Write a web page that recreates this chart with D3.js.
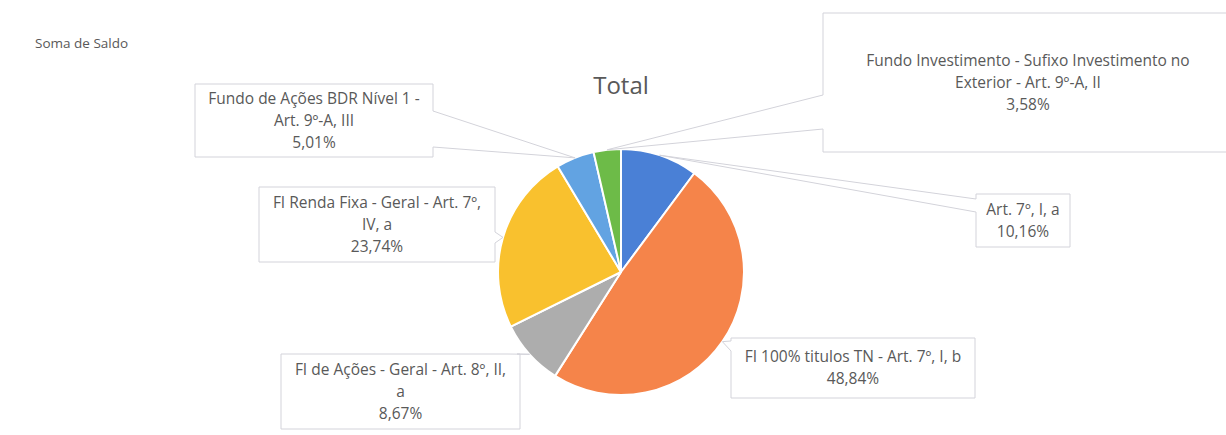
<!DOCTYPE html>
<html>
<head>
<meta charset="utf-8">
<script src="https://cdn.jsdelivr.net/npm/d3@7"></script>
<style>
  html, body { margin: 0; padding: 0; background: #fff; }
  svg { display: block; }
  text { font-family: "Open Sans", "Noto Sans", sans-serif; fill: #595959; }
</style>
</head>
<body>
<svg id="chart" width="1226" height="435"></svg>
<script>
// Categories (clockwise from 12 o'clock) and their share of the total balance, in %
const categories = [
  "Art. 7º, I, a",
  "FI 100% títulos TN - Art. 7º, I, b",
  "FI de Ações - Geral - Art. 8º, II, a",
  "FI Renda Fixa - Geral - Art. 7º, IV, a",
  "Fundo de Ações BDR Nível 1 - Art. 9º-A, III",
  "Fundo Investimento - Sufixo Investimento no Exterior - Art. 9º-A, II"
];
const values = [10.16, 48.84, 8.67, 23.74, 5.01, 3.58];

// Wrapped label lines as drawn inside each callout (category part)
const labelLines = [
  ["Art. 7º, I, a"],
  ["FI 100% titulos TN - Art. 7º, I, b"],
  ["FI de Ações - Geral - Art. 8º, II,", "a"],
  ["FI Renda Fixa - Geral - Art. 7º,", "IV, a"],
  ["Fundo de Ações BDR Nível 1 -", "Art. 9º-A, III"],
  ["Fundo Investimento - Sufixo Investimento no", "Exterior - Art. 9º-A, II"]
];

const colors = ["#4a80d6", "#f5844a", "#adadad", "#f9c12e", "#62a3e2", "#6dbb48"];

const svg = d3.select("#chart");
const cx = 621, cy = 272, R = 123;

// Titles
svg.append("text").attr("x", 35).attr("y", 48)
  .style("font-size", "13.5px").text("Soma de Saldo");
svg.append("text").attr("x", 621).attr("y", 94).attr("text-anchor", "middle")
  .style("font-size", "24px").text("Total");

// Pie
const pie = d3.pie().sort(null).value(d => d);
const arcs = pie(values);
const arc = d3.arc().innerRadius(0).outerRadius(R);

const g = svg.append("g").attr("transform", `translate(${cx},${cy})`);
g.selectAll("path").data(arcs).join("path")
  .attr("d", arc)
  .attr("fill", (d, i) => colors[i])
  .attr("stroke", "#fff")
  .attr("stroke-width", 2)
  .attr("stroke-linejoin", "round");

// Callout boxes: rectangle, the side that carries the pointer and where its base sits
const callouts = [
  { x: 976, y: 194, w: 94,  h: 53,  side: "left",  a: 199, b: 212 },
  { x: 731, y: 338, w: 244, h: 60,  side: "left",  a: 341, b: 351 },
  { x: 281, y: 354, w: 239, h: 75,  side: "top",   a: 507, b: 517 },
  { x: 259, y: 187, w: 236, h: 75,  side: "right", a: 232, b: 243 },
  { x: 195, y: 84,  w: 238, h: 73,  side: "right", a: 111, b: 147 },
  { x: 823, y: 13,  w: 410, h: 139, side: "left",  a: 95,  b: 129 }
];

// Pointer tip: slice mid-angle on the pie rim
function tipOf(d) {
  const m = (d.startAngle + d.endAngle) / 2;
  return [cx + R * Math.sin(m), cy - R * Math.cos(m)];
}

function calloutPath(c, tip) {
  const p = d3.path();
  const x0 = c.x, y0 = c.y, x1 = c.x + c.w, y1 = c.y + c.h;
  p.moveTo(x0, y0);
  if (c.side === "top") { p.lineTo(c.a, y0); p.lineTo(tip[0], tip[1]); p.lineTo(c.b, y0); }
  p.lineTo(x1, y0);
  if (c.side === "right") { p.lineTo(x1, c.a); p.lineTo(tip[0], tip[1]); p.lineTo(x1, c.b); }
  p.lineTo(x1, y1);
  p.lineTo(x0, y1);
  if (c.side === "left") { p.lineTo(x0, c.b); p.lineTo(tip[0], tip[1]); p.lineTo(x0, c.a); }
  p.closePath();
  return p.toString();
}

const fmt = v => d3.format(".2f")(v).replace(".", ",") + "%";
const lineH = 22;

const labels = svg.append("g");
arcs.forEach((d, i) => {
  const c = callouts[i];
  const tip = tipOf(d);
  labels.append("path")
    .attr("d", calloutPath(c, tip))
    .attr("fill", "#fff")
    .attr("fill-opacity", 0.001)
    .attr("stroke", "#d3d3da")
    .attr("stroke-width", 1);

  const lines = labelLines[i].concat([fmt(values[i])]);
  const midX = c.x + c.w / 2;
  const midY = c.y + c.h / 2;
  const top = midY - (lines.length - 1) * lineH / 2;
  const t = labels.append("text")
    .attr("text-anchor", "middle")
    .style("font-size", "15.5px");
  lines.forEach((s, k) => {
    t.append("tspan").attr("x", midX).attr("y", top + k * lineH)
      .attr("dy", "0.35em").text(s);
  });
});
</script>
</body>
</html>
